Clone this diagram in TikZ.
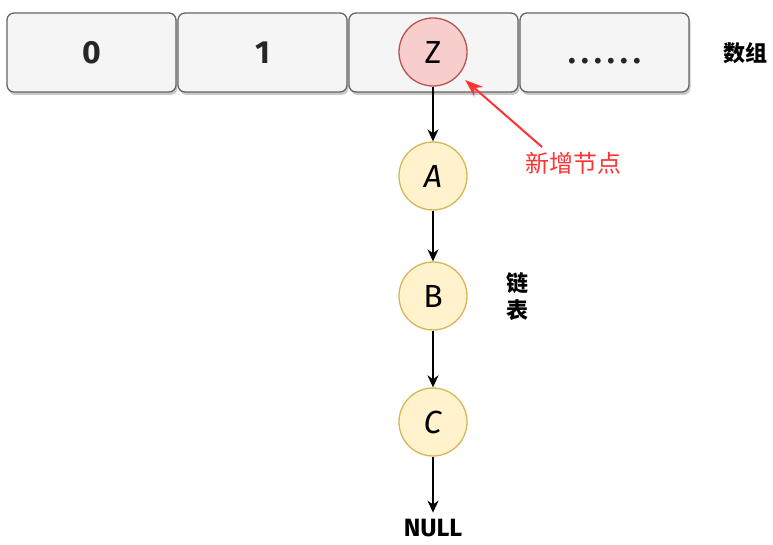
\documentclass[tikz,border=0pt]{standalone}
\usepackage{fontspec}
\setmainfont{Fira Sans}
\newfontfamily\cjk{Noto Sans CJK SC}
\usepackage{xcolor}
\usetikzlibrary{positioning, shadows, arrows.meta}

\definecolor{cellfill}{HTML}{F5F5F5}
\definecolor{celldraw}{HTML}{666666}
\definecolor{newfill}{HTML}{F8CECC}
\definecolor{newdraw}{HTML}{B85450}
\definecolor{listfill}{HTML}{FFF2CC}
\definecolor{listdraw}{HTML}{D6B656}
\definecolor{notered}{HTML}{FF3333}

\begin{document}
\begin{tikzpicture}[x=1pt, y=-1pt, on grid, node distance=171pt,
    cell/.style={draw=celldraw, fill=cellfill, line width=1.3pt, rounded corners=7pt,
        minimum width=169pt, minimum height=79pt,
        drop shadow={shadow xshift=1.5pt, shadow yshift=-3pt, fill=black!30, opacity=0.7},
        font=\fontsize{32}{34}\selectfont\bfseries, text=black!85},
    entry/.style={circle, draw=listdraw, fill=listfill, line width=1.3pt, minimum size=68pt,
        inner sep=0pt, font=\fontsize{32}{34}\selectfont},
    newentry/.style={entry, draw=newdraw, fill=newfill},
    link/.style={-{Stealth[length=12pt, width=11pt]}, line width=1.4pt},
    note/.style={font=\cjk\fontsize{22}{26}\selectfont\bfseries}]
    \useasboundingbox (0,0) rectangle (773,545);

    % array cells
    \node[cell] (c0) at (91.5,52.5) {0};
    \node[cell, right=of c0] (c1) {1};
    \node[cell, right=of c1] (c2) {};
    \node[cell, right=of c2] (c3) {\vphantom{0}.\,.\,.\,.\,.\,.};
    \node[note] (arr) at (745,53) {数组};

    % list hanging off cell 2
    \node[newentry] (z) at (433,52) {Z};
    \node[entry, below=124pt of z] (a) {\textit{A}};
    \node[entry, below=120pt of a] (b) {B};
    \node[entry, below=126pt of b] (c) {\textit{C}};
    \node[font=\fontsize{25}{27}\selectfont\bfseries, below=106pt of c] (null) {NULL};
    \node[note, align=center, font=\cjk\fontsize{22}{27}\selectfont\bfseries] (lst) at (517,297) {链\\表};

    \path[link]
        (z) edge (a)
        (a) edge (b)
        (b) edge (c)
        (c) edge[shorten >=3pt] (null);

    % marker for the inserted entry
    \node[text=notered, font=\cjk\fontsize{24}{28}\selectfont] (new) at (573,163) {新增节点};
    \coordinate (tail) at (542,147);
    \draw[-{Stealth[length=18pt, width=13pt]}, notered, line width=2pt, shorten >=8pt] (tail) -- (z);
\end{tikzpicture}
\end{document}
